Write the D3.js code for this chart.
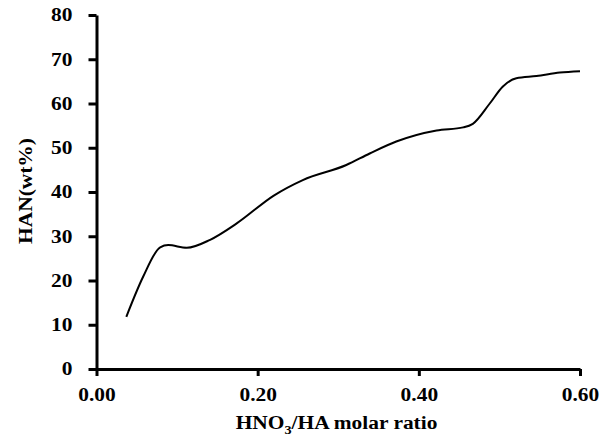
<!DOCTYPE html>
<html>
<head>
<meta charset="utf-8">
<script src="https://d3js.org/d3.v7.min.js"></script>
<style>
  body { margin: 0; background: #fff; }
  text { font-family: "Liberation Serif", "Times New Roman", serif; font-weight: bold; }
</style>
</head>
<body>
<div id="chart"></div>
<script>
// molar ratio HNO3/HA
var ratio = [0.037, 0.058, 0.079, 0.089, 0.112, 0.141, 0.174, 0.22, 0.256, 0.31, 0.339, 0.372, 0.422, 0.455, 0.467, 0.488, 0.504, 0.521, 0.546, 0.575, 0.60];
// HAN content (wt%)
var han = [11.8, 20.9, 27.5, 28.0, 27.4, 29.2, 32.9, 39.2, 42.7, 46.1, 48.7, 51.4, 53.9, 54.6, 55.4, 60.0, 63.8, 65.7, 66.2, 67.0, 67.3];
var xTicks = [0, 0.2, 0.4, 0.6];
var yTicks = [0, 10, 20, 30, 40, 50, 60, 70, 80];

var W = 611, H = 436;
var margin = {top: 15, right: 31, bottom: 67, left: 96.5};
var width = W - margin.left - margin.right,
    height = H - margin.top - margin.bottom;
var stretch = 1.19; // the source image text is wider than plain Times

var svg = d3.select("#chart").append("svg")
    .attr("width", W).attr("height", H)
  .append("g")
    .attr("transform", "translate(" + margin.left + "," + margin.top + ")");

var x = d3.scaleLinear().domain([0, 0.6]).range([0, width]);
var y = d3.scaleLinear().domain([0, 80]).range([height, 0]);

// X axis
var xAxis = svg.append("g")
  .attr("transform", "translate(0," + height + ")")
  .call(d3.axisBottom(x).tickValues(xTicks).tickFormat(d3.format(".2f")).tickSize(7).tickSizeOuter(0).tickPadding(12));

// Y axis
var yAxis = svg.append("g")
  .call(d3.axisLeft(y).tickValues(yTicks).tickSize(8).tickSizeOuter(0).tickPadding(16));

[xAxis, yAxis].forEach(function(a) {
  a.select(".domain").attr("stroke", "#000").attr("stroke-width", 3);
  a.selectAll(".tick line").attr("stroke", "#000").attr("stroke-width", 3);
  a.selectAll(".tick text").attr("fill", "#000").style("font-size", "18px")
    .style("font-family", "'Liberation Serif', serif").style("font-weight", "bold")
    .each(function() {
      var len = this.getComputedTextLength();
      d3.select(this).attr("textLength", len * stretch).attr("lengthAdjust", "spacingAndGlyphs");
    });
});

// line
var pts = ratio.map(function(r, i) { return [r, han[i]]; });
var line = d3.line()
  .x(function(d) { return x(d[0]); })
  .y(function(d) { return y(d[1]); })
  .curve(d3.curveMonotoneX);

svg.append("path")
  .datum(pts)
  .attr("fill", "none")
  .attr("stroke", "#000")
  .attr("stroke-width", 2)
  .attr("d", line);

// axis titles
var xt = svg.append("g")
  .attr("transform", "translate(240," + (height + 60) + ") scale(" + stretch + ",1)")
  .append("text")
  .attr("text-anchor", "middle")
  .style("font-size", "18px");
xt.append("tspan").text("HNO");
xt.append("tspan").text("3").attr("dy", 5).style("font-size", "12px");
xt.append("tspan").text("/HA molar ratio").attr("dy", -5);

svg.append("g")
  .attr("transform", "translate(-65," + (y(40) - 1) + ") rotate(-90) scale(" + stretch + ",1)")
  .append("text")
  .attr("text-anchor", "middle")
  .style("font-size", "18px")
  .text("HAN(wt%)");
</script>
</body>
</html>
